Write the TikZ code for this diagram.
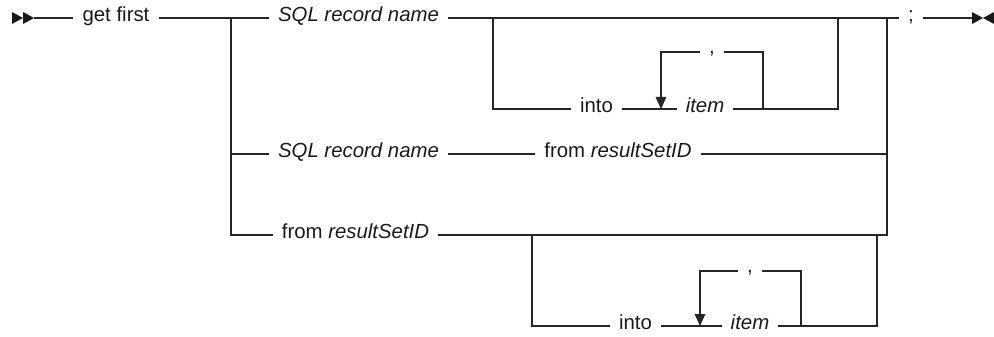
\documentclass[tikz,border=0pt]{standalone}
\usepackage{fontspec}
\setmainfont{Liberation Sans}
\usetikzlibrary{arrows.meta}
\tikzset{
	rrText/.style={
		inner xsep=2.7mm,
		inner ysep=0pt,
		text height=0.62em,
		text depth=0pt,
		font=\fontsize{17.4pt}{20pt}\selectfont,
		text=black!90
	},
	rrKeyword/.style={rrText},
	rrVar/.style={rrText, font=\fontsize{17.4pt}{20pt}\selectfont\itshape},
	rrComma/.style={rrText, text height=0.4em, text depth=0.1em},
	rrLine/.style={draw=black!85, line width=0.9pt},
	rrLoop/.style={rrLine, -{Triangle[length=3.6mm,width=3.2mm]}},
	rrMark/.style={fill=black!90}
}

\begin{document}
\begin{tikzpicture}[x=0.3mm, y=-0.3mm]
	\useasboundingbox (0,0) rectangle (994,337);

	% Start and end of the statement
	\coordinate (start) at (34,18);
	\coordinate (stop) at (972,18);
	\node[rrKeyword] (getfirst) at (116,18) {get first};
	\node[rrKeyword] (semi) at (911,18) {;};
	\coordinate (split) at (231,18);
	\coordinate (join) at (887,18);

	% First choice
	\node[rrVar] (sqlA) at (358.5,18) {SQL record name};
	\coordinate (optAin) at (493,18);
	\coordinate (optAout) at (838,18);
	\node[rrKeyword] (intoA) at (596.5,109) {into};
	\node[rrVar] (itemA) at (705,109) {item};
	\node[rrComma] (commaA) at (712,52) {,};
	\coordinate (loopAl) at (661,52);
	\coordinate (loopAr) at (763,52);

	% Second choice
	\node[rrVar] (sqlB) at (358.5,154) {SQL record name};
	\node[rrKeyword] (fromB) at (618,154) {from \textit{resultSetID}};

	% Third choice
	\node[rrKeyword] (fromC) at (355.5,235) {from \textit{resultSetID}};
	\coordinate (optCin) at (532,235);
	\coordinate (optCout) at (877,235);
	\node[rrKeyword] (intoC) at (635.5,326) {into};
	\node[rrVar] (itemC) at (750,326) {item};
	\node[rrComma] (commaC) at (750,271) {,};
	\coordinate (loopCl) at (700,271);
	\coordinate (loopCr) at (801,271);

	% Marks
	\fill[rrMark] (12,12) -- (23,18) -- (12,24) -- cycle;
	\fill[rrMark] (23,12) -- (start) -- (23,24) -- cycle;
	\fill[rrMark] (972,12) -- (983,18) -- (972,24) -- cycle;
	\fill[rrMark] (994,12) -- (983,18) -- (994,24) -- cycle;

	% Main line
	\draw[rrLine] (start) -- (getfirst.west);
	\draw[rrLine] (getfirst.east) -- (sqlA.west);
	\draw[rrLine] (sqlA.east) -- (semi.west);
	\draw[rrLine] (semi.east) -- (stop);
	\draw[rrLine] (split) |- (fromC.west);
	\draw[rrLine] (fromC.east) -| (join);

	% Optional into list, first choice
	\draw[rrLine] (optAin) |- (intoA.west);
	\draw[rrLine] (intoA.east) -- (itemA.west);
	\draw[rrLine] (itemA.east) -| (optAout);
	\draw[rrLine] (loopAr |- itemA) -- (loopAr) -- (commaA.east);
	\draw[rrLoop] (commaA.west) -- (loopAl) -- (loopAl |- intoA);

	% Second choice
	\draw[rrLine] (split |- sqlB) -- (sqlB.west);
	\draw[rrLine] (sqlB.east) -- (fromB.west);
	\draw[rrLine] (fromB.east) -- (join |- fromB);

	% Optional into list, third choice
	\draw[rrLine] (optCin) |- (intoC.west);
	\draw[rrLine] (intoC.east) -- (itemC.west);
	\draw[rrLine] (itemC.east) -| (optCout);
	\draw[rrLine] (loopCr |- itemC) -- (loopCr) -- (commaC.east);
	\draw[rrLoop] (commaC.west) -- (loopCl) -- (loopCl |- intoC);

\end{tikzpicture}
\end{document}
